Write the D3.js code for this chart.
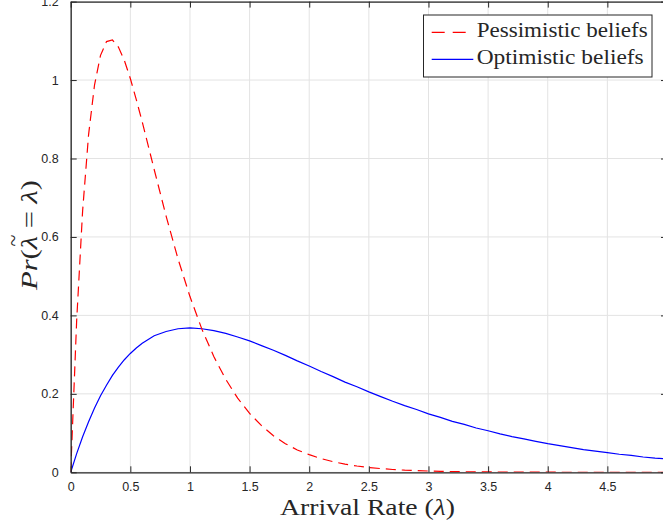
<!DOCTYPE html>
<html>
<head>
<meta charset="utf-8">
<script src="https://cdn.jsdelivr.net/npm/d3@7"></script>
<style>
body { margin: 0; background: #fff; }
svg { display: block; }
.tick text { font-family: "Liberation Sans", Arial, sans-serif; font-size: 12.5px; fill: #262626; }
</style>
</head>
<body>
<div class="content"></div>
<script>
const w = 663;
const h = 524;

// plot box (right edge falls just outside the picture, as in the reference)
const mLeft = 70.7, mRight = 667, mTop = 1.6, mBottom = 472.3;

const xTicks = [0, 0.5, 1, 1.5, 2, 2.5, 3, 3.5, 4, 4.5, 5];
const yTicks = [0, 0.2, 0.4, 0.6, 0.8, 1, 1.2];

const seriesNames = ['Pessimistic beliefs', 'Optimistic beliefs'];

const rate = [0, 0.05, 0.1, 0.15, 0.2, 0.25, 0.3, 0.35, 0.4, 0.45, 0.5, 0.55, 0.6,
	0.7, 0.8, 0.9, 1, 1.1, 1.2, 1.3, 1.4, 1.5, 1.6, 1.7, 1.8, 1.9, 2,
	2.1, 2.2, 2.3, 2.4, 2.5, 2.6, 2.7, 2.8, 2.9, 3, 3.1, 3.2, 3.3, 3.4, 3.5,
	3.6, 3.7, 3.8, 3.9, 4, 4.1, 4.2, 4.3, 4.4, 4.5, 4.6, 4.7, 4.8, 4.9, 5];

const pessimistic = [0, 0.387, 0.667, 0.861, 0.988, 1.063, 1.098, 1.102, 1.084, 1.05, 1.004, 0.95, 0.893,
	0.772, 0.653, 0.544, 0.448, 0.365, 0.295, 0.237, 0.189, 0.15, 0.119, 0.093, 0.073, 0.057, 0.045,
	0.035, 0.027, 0.021, 0.016, 0.012, 0.0095, 0.0072, 0.0054, 0.0043, 0.0033, 0.0025, 0.0019, 0.0015, 0.0011, 0.0009,
	0.0007, 0.0005, 0.0004, 0.0003, 0.0002, 0.0002, 0.0001, 0.0001, 0.0001, 0.0001, 0, 0, 0, 0, 0];

const optimistic = [0, 0.0476, 0.0905, 0.129, 0.164, 0.195, 0.222, 0.247, 0.268, 0.287, 0.303, 0.317, 0.329,
	0.348, 0.359, 0.366, 0.368, 0.366, 0.361, 0.354, 0.345, 0.335, 0.323, 0.311, 0.298, 0.284, 0.271,
	0.257, 0.244, 0.23, 0.218, 0.205, 0.193, 0.181, 0.17, 0.16, 0.149, 0.14, 0.13, 0.122, 0.113, 0.106,
	0.098, 0.091, 0.085, 0.079, 0.073, 0.068, 0.063, 0.058, 0.054, 0.05, 0.046, 0.043, 0.039, 0.036, 0.034];

const axisColor = '#262626';
const gridColor = '#e3e3e3';
const serif = '"Liberation Serif", "Times New Roman", serif';

const svg = d3.select('.content').append('svg')
	.attr('width', w)
	.attr('height', h);

const x = d3.scaleLinear().domain([0, 5]).range([mLeft, mRight]);
const y = d3.scaleLinear().domain([0, 1.2]).range([mBottom, mTop]);

// grid
svg.append('g').selectAll('line')
	.data(xTicks)
	.enter().append('line')
	.attr('x1', d => x(d)).attr('x2', d => x(d))
	.attr('y1', mTop).attr('y2', mBottom)
	.attr('stroke', gridColor).attr('stroke-width', 1);

svg.append('g').selectAll('line')
	.data(yTicks)
	.enter().append('line')
	.attr('x1', mLeft).attr('x2', mRight)
	.attr('y1', d => y(d)).attr('y2', d => y(d))
	.attr('stroke', gridColor).attr('stroke-width', 1);

// curves
svg.append('clipPath').attr('id', 'clip')
	.append('rect')
	.attr('x', mLeft).attr('y', mTop)
	.attr('width', mRight - mLeft).attr('height', mBottom - mTop);

const line = d3.line()
	.x((d, i) => x(rate[i]))
	.y(d => y(d));

const plot = svg.append('g').attr('clip-path', 'url(#clip)');

plot.append('path')
	.datum(optimistic)
	.attr('d', line)
	.attr('fill', 'none')
	.attr('stroke', '#0000ff')
	.attr('stroke-width', 1.2);

plot.append('path')
	.datum(pessimistic)
	.attr('d', line)
	.attr('fill', 'none')
	.attr('stroke', '#ff0000')
	.attr('stroke-width', 1.2)
	.attr('stroke-dasharray', '10,6');

// axes, ticks pointing inward on all four sides
const tickFmt = d => d3.format('')(d);

svg.append('g')
	.attr('transform', `translate(0,${mBottom})`)
	.call(d3.axisBottom(x).tickValues(xTicks).tickFormat(tickFmt).tickSizeInner(-6).tickSizeOuter(0).tickPadding(10))
	.call(g => g.selectAll('line, path').attr('stroke', axisColor));

svg.append('g')
	.attr('transform', `translate(${mLeft},0)`)
	.call(d3.axisLeft(y).tickValues(yTicks).tickFormat(tickFmt).tickSizeInner(-6).tickSizeOuter(0).tickPadding(12))
	.call(g => g.selectAll('line, path').attr('stroke', axisColor));

svg.append('g')
	.attr('transform', `translate(0,${mTop})`)
	.call(d3.axisTop(x).tickValues(xTicks).tickFormat('').tickSizeInner(-6).tickSizeOuter(0))
	.call(g => g.selectAll('line, path').attr('stroke', axisColor));

svg.append('g')
	.attr('transform', `translate(${mRight},0)`)
	.call(d3.axisRight(y).tickValues(yTicks).tickFormat('').tickSizeInner(-6).tickSizeOuter(0))
	.call(g => g.selectAll('line, path').attr('stroke', axisColor));

svg.selectAll('.domain').attr('stroke-width', 1.3);

// axis titles
const xt = svg.append('text')
	.attr('x', 280).attr('y', 514.5)
	.attr('font-family', serif)
	.attr('font-size', 24)
	.attr('textLength', 175)
	.attr('lengthAdjust', 'spacingAndGlyphs')
	.attr('fill', axisColor);
xt.append('tspan').text('Arrival Rate (');
xt.append('tspan').attr('font-style', 'italic').text('λ');
xt.append('tspan').text(')');

const yg = svg.append('g').attr('transform', 'translate(37,235) rotate(-90)');
const yt = yg.append('text')
	.attr('x', -55).attr('y', 0)
	.attr('font-family', serif)
	.attr('font-size', 24)
	.attr('textLength', 110)
	.attr('lengthAdjust', 'spacingAndGlyphs')
	.attr('fill', axisColor);
yt.append('tspan').attr('font-style', 'italic').text('Pr');
yt.append('tspan').text('(');
yt.append('tspan').attr('font-style', 'italic').text('λ');
yt.append('tspan').text(' = ');
yt.append('tspan').attr('font-style', 'italic').text('λ');
yt.append('tspan').text(')');

// tilde over the first lambda (character index 3)
const lam = yt.node().getExtentOfChar(3);
yg.append('text')
	.attr('x', lam.x + lam.width / 2 + 2)
	.attr('y', lam.y + 4)
	.attr('text-anchor', 'middle')
	.attr('font-family', serif)
	.attr('font-size', 22)
	.attr('fill', axisColor)
	.text('~');

// legend
const legend = svg.append('g');
legend.append('rect')
	.attr('x', 423.5).attr('y', 15)
	.attr('width', 228.5).attr('height', 62)
	.attr('fill', '#fff')
	.attr('stroke', axisColor)
	.attr('stroke-width', 1);

const legendColors = ['#ff0000', '#0000ff'];
const legendDash = ['13,8', null];
const legendWidths = [171, 167];

legend.selectAll('line.key')
	.data(seriesNames)
	.enter().append('line')
	.attr('class', 'key')
	.attr('x1', 431.7).attr('x2', (d, i) => i === 0 ? 466.7 : 473.3)
	.attr('y1', (d, i) => 32.3 + i * 27).attr('y2', (d, i) => 32.3 + i * 27)
	.attr('stroke', (d, i) => legendColors[i])
	.attr('stroke-width', 1.2)
	.attr('stroke-dasharray', (d, i) => legendDash[i]);

legend.selectAll('text')
	.data(seriesNames)
	.enter().append('text')
	.attr('x', 476.7)
	.attr('y', (d, i) => 37 + i * 27)
	.attr('font-family', serif)
	.attr('font-size', 21)
	.attr('textLength', (d, i) => legendWidths[i])
	.attr('lengthAdjust', 'spacingAndGlyphs')
	.attr('fill', axisColor)
	.text(d => d);
</script>
</body>
</html>
